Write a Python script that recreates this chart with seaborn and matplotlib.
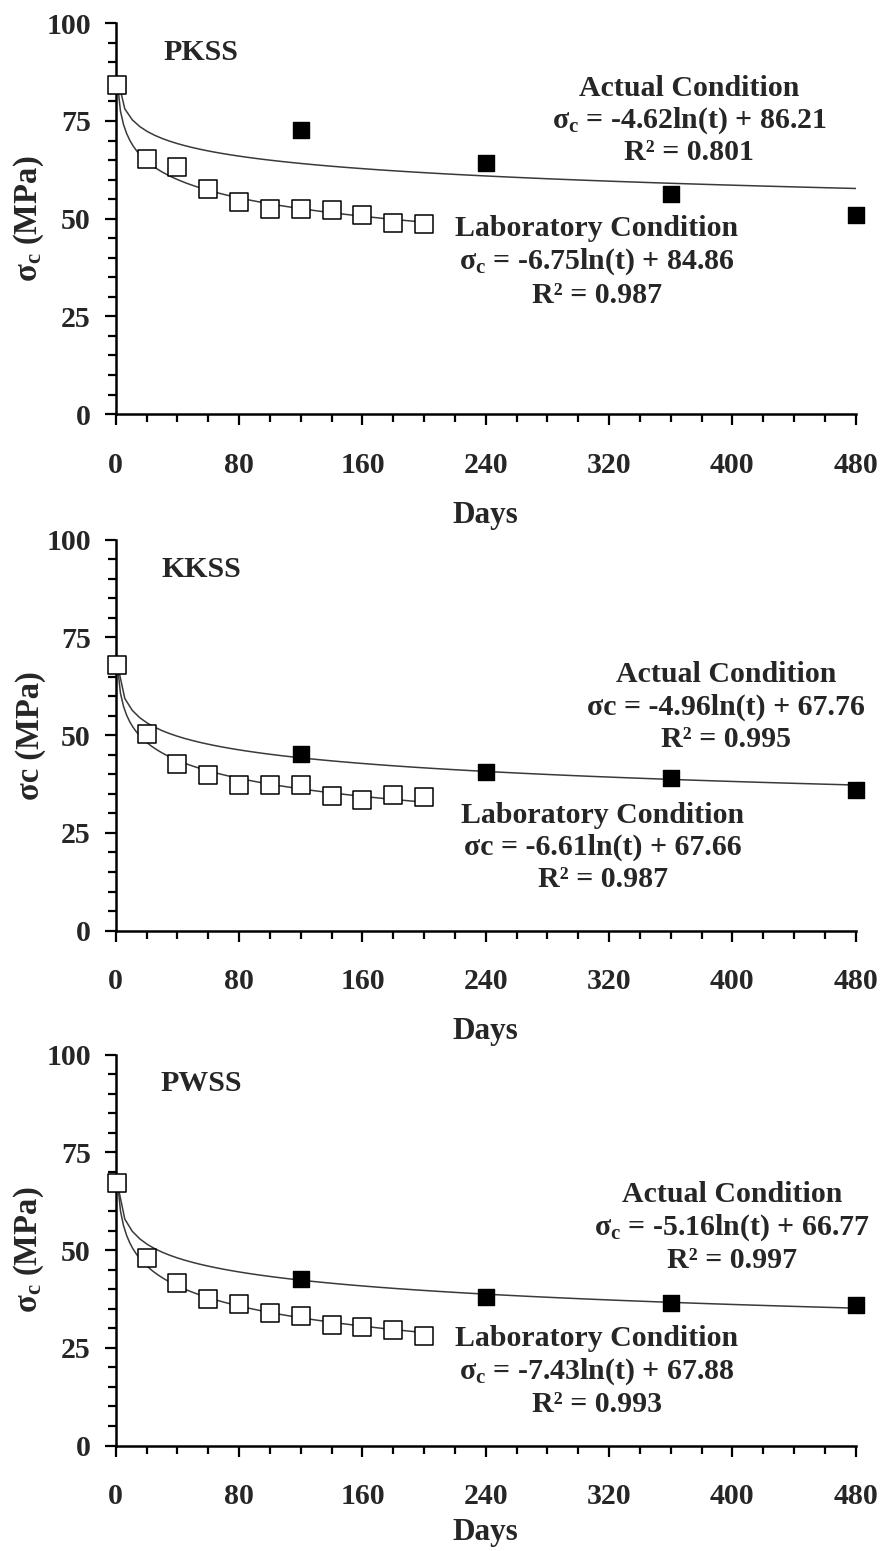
import numpy as np
import pandas as pd
import seaborn as sns
import matplotlib.pyplot as plt
from matplotlib.ticker import MultipleLocator

# sampling days
lab_days = [1, 20, 40, 60, 80, 100, 120, 140, 160, 180, 200]
act_days = [1, 120, 240, 360, 480]

# compressive strength (MPa)
pkss_lab = [84.1, 65.2, 63.2, 57.5, 54.2, 52.6, 52.4, 52.2, 50.9, 48.9, 48.6]
pkss_act = [84.1, 72.6, 64.2, 56.3, 50.9]
kkss_lab = [68.0, 50.3, 42.5, 39.7, 37.3, 37.3, 37.3, 34.5, 33.5, 34.8, 34.2]
kkss_act = [68.0, 45.2, 40.7, 39.1, 36.1]
pwss_lab = [67.1, 48.1, 41.7, 37.4, 36.2, 33.8, 33.1, 30.8, 30.3, 29.5, 28.0]
pwss_act = [67.1, 42.6, 37.9, 36.4, 35.9]

names = ["PKSS", "KKSS", "PWSS"]
sig = r"σ$_{\mathbf{c}}$"
ylabels = [sig + " (MPa)", "σc (MPa)", sig + " (MPa)"]
act_eq = [sig + " = -4.62ln(t) + 86.21", "σc = -4.96ln(t) + 67.76", sig + " = -5.16ln(t) + 66.77"]
act_r2 = ["R² = 0.801", "R² = 0.995", "R² = 0.997"]
lab_eq = [sig + " = -6.75ln(t) + 84.86", "σc = -6.61ln(t) + 67.66", sig + " = -7.43ln(t) + 67.88"]
lab_r2 = ["R² = 0.987", "R² = 0.987", "R² = 0.993"]

# text anchor positions (data coords): actual block, lab block
act_pos = [(372, 83.4, 8.2), (396, 65.5, 8.3), (400, 64.1, 8.4)]
lab_pos = [(312, 47.6, 8.6), (316, 29.4, 8.2), (312, 27.4, 8.5)]

sns.set_style("ticks")
plt.rcParams["font.family"] = ["Liberation Serif", "DejaVu Serif"]
plt.rcParams["font.weight"] = "bold"
plt.rcParams["mathtext.fontset"] = "custom"
plt.rcParams["mathtext.rm"] = "Liberation Serif:bold"
plt.rcParams["mathtext.bf"] = "Liberation Serif:bold"
plt.rcParams["mathtext.it"] = "Liberation Serif:bold"

fig = plt.figure(figsize=(8.84, 15.51), dpi=100)
tops = [0.985, 0.652, 0.320]
bottoms = [0.733, 0.400, 0.068]
xpads = [16, 16, 6]

labs = [pkss_lab, kkss_lab, pwss_lab]
acts = [pkss_act, kkss_act, pwss_act]
fs = 21.5

for i in range(3):
    ax = fig.add_axes([0.131, bottoms[i], 0.837, tops[i] - bottoms[i]])
    df_lab = pd.DataFrame({"Days": lab_days, "val": labs[i]})
    df_act = pd.DataFrame({"Days": act_days, "val": acts[i]})

    sns.regplot(data=df_act, x="Days", y="val", logx=True, ci=None, scatter=False,
                line_kws=dict(color="#3a3a3a", lw=1.1), ax=ax)
    sns.regplot(data=df_lab, x="Days", y="val", logx=True, ci=None, scatter=False,
                line_kws=dict(color="#3a3a3a", lw=1.1), ax=ax)
    sns.scatterplot(data=df_act, x="Days", y="val", marker="s", s=120, color="black",
                    edgecolor="black", linewidth=1, ax=ax, zorder=7, clip_on=False)
    sns.scatterplot(data=df_lab, x="Days", y="val", marker="s", s=150, color="white",
                    edgecolor="black", linewidth=1.1, ax=ax, zorder=8, clip_on=False)

    ax.set_xlim(0, 480)
    ax.set_ylim(0, 100)
    ax.xaxis.set_major_locator(MultipleLocator(80))
    ax.xaxis.set_minor_locator(MultipleLocator(20))
    ax.yaxis.set_major_locator(MultipleLocator(25))
    ax.yaxis.set_minor_locator(MultipleLocator(5))
    ax.tick_params(which="major", length=8, width=1.6, labelsize=fs, color="black")
    ax.tick_params(which="minor", length=6, width=1.6, color="black")
    ax.tick_params(axis="x", which="major", pad=19)
    ax.tick_params(axis="y", which="major", pad=10)
    for side in ["top", "right"]:
        ax.spines[side].set_visible(False)
    for side in ["left", "bottom"]:
        ax.spines[side].set_linewidth(1.8)
        ax.spines[side].set_color("black")
    ax.spines["left"].set_zorder(6)

    ax.set_xlabel("Days", fontsize=fs + 1, fontweight="bold", labelpad=xpads[i])
    ax.set_ylabel(ylabels[i], fontsize=fs + 2, fontweight="bold", labelpad=0)

    ax.text(55.5, 92.5, names[i], fontsize=fs, fontweight="bold", ha="center", va="center")
    x, y, dy = act_pos[i]
    ax.text(x, y, "Actual Condition", fontsize=fs, fontweight="bold", ha="center", va="center")
    ax.text(x, y - dy, act_eq[i], fontsize=fs, fontweight="bold", ha="center", va="center")
    ax.text(x, y - 2 * dy, act_r2[i], fontsize=fs, fontweight="bold", ha="center", va="center")
    x, y, dy = lab_pos[i]
    ax.text(x, y, "Laboratory Condition", fontsize=fs, fontweight="bold", ha="center", va="center")
    ax.text(x, y - dy, lab_eq[i], fontsize=fs, fontweight="bold", ha="center", va="center")
    ax.text(x, y - 2 * dy, lab_r2[i], fontsize=fs, fontweight="bold", ha="center", va="center")

fig.savefig("out.png", dpi=100)
